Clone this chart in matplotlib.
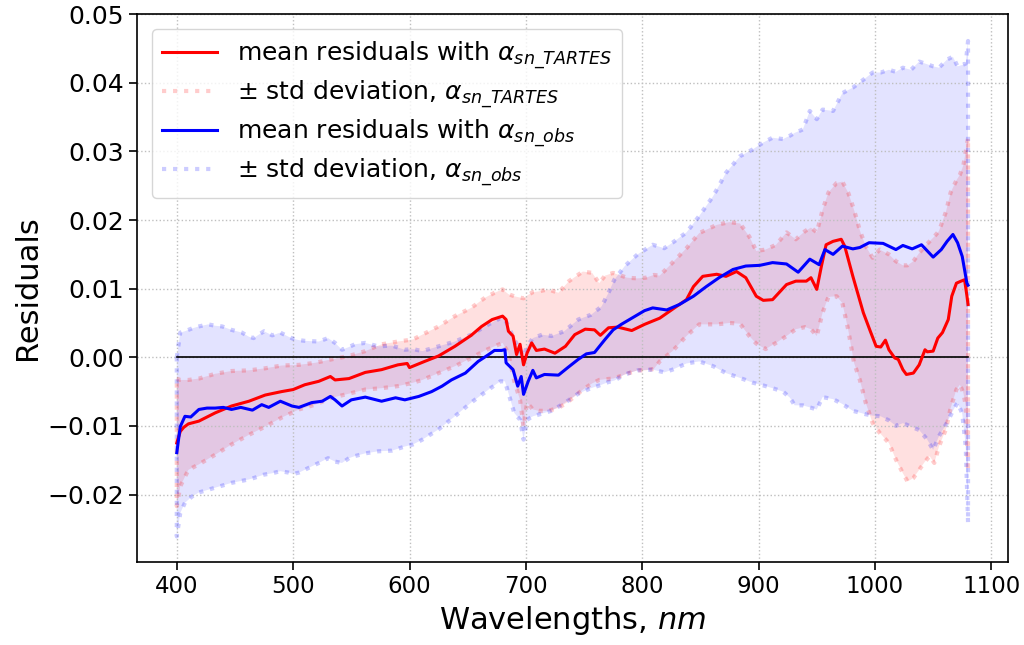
import matplotlib
matplotlib.use("Agg")
import matplotlib.pyplot as plt
import numpy as np

# mean residuals, alpha_sn_TARTES
wl_red = [400, 403, 406, 410, 419, 433, 447, 462, 476, 490, 500, 510, 522, 532, 536, 548, 562, 576,
          590, 598, 600, 613, 625, 639, 653, 662, 671, 680, 683, 685, 689, 692, 695, 698, 701, 705,
          709, 716, 725, 734, 742, 751, 759, 764, 771, 779, 791, 802, 815, 826, 838, 844, 852, 864,
          872, 881, 889, 898, 904, 912, 924, 932, 941, 945, 950, 954, 958, 964, 971, 974, 981, 990,
          996, 1001, 1005, 1009, 1012, 1017, 1020, 1024, 1027, 1033, 1038, 1043, 1045, 1050, 1054,
          1058, 1063, 1066, 1070, 1074, 1077, 1079, 1080]
red_mean = [-0.0125, -0.0108, -0.0102, -0.0097, -0.0093, -0.0081, -0.0071, -0.0064, -0.0055, -0.0050,
            -0.0047, -0.0040, -0.0035, -0.0028, -0.0033, -0.0031, -0.0022, -0.0018, -0.0011, -0.0009,
            -0.0015, -0.0006, 0.0002, 0.0016, 0.0032, 0.0045, 0.0055, 0.0060, 0.0055, 0.0038, 0.0031,
            0.0004, 0.0019, -0.0011, 0.0006, 0.0021, 0.0010, 0.0012, 0.0006, 0.0016, 0.0033, 0.0041,
            0.0040, 0.0032, 0.0043, 0.0044, 0.0039, 0.0048, 0.0057, 0.0070, 0.0084, 0.0103, 0.0118,
            0.0121, 0.0118, 0.0125, 0.0116, 0.0089, 0.0083, 0.0084, 0.0106, 0.0111, 0.0111, 0.0116,
            0.0099, 0.0133, 0.0164, 0.0169, 0.0172, 0.0162, 0.0118, 0.0065, 0.0038, 0.0016, 0.0015,
            0.0025, 0.0011, -0.0001, -0.0003, -0.0018, -0.0025, -0.0023, -0.0011, 0.0011, 0.0008,
            0.0009, 0.0028, 0.0036, 0.0055, 0.0089, 0.0108, 0.0111, 0.0113, 0.0090, 0.0077]

# mean +/- std, alpha_sn_TARTES
wl_red_band = [400, 403, 410, 419, 433, 447, 462, 476, 490, 505, 519, 533, 548, 562, 576, 590, 603,
               611, 625, 639, 653, 665, 673, 680, 685, 690, 695, 698, 701, 706, 711, 719, 728, 737,
               749, 757, 763, 768, 775, 787, 796, 803, 810, 815, 826, 838, 849, 864, 875, 884, 892,
               898, 906, 915, 924, 932, 940, 945, 950, 955, 960, 967, 972, 977, 982, 987, 992, 998,
               1004, 1012, 1018, 1024, 1028, 1033, 1038, 1043, 1047, 1051, 1055, 1061, 1065, 1070,
               1073, 1076, 1078, 1080]
red_upper = [-0.0031, -0.0033, -0.0033, -0.0031, -0.0024, -0.0020, -0.0019, -0.0016, -0.0012, -0.0011,
             -0.0008, -0.0003, 0.0002, 0.0009, 0.0019, 0.0023, 0.0026, 0.0033, 0.0045, 0.0060, 0.0072,
             0.0087, 0.0094, 0.0099, 0.0092, 0.0089, 0.0087, 0.0086, 0.0090, 0.0095, 0.0096, 0.0099,
             0.0094, 0.0111, 0.0125, 0.0123, 0.0108, 0.0119, 0.0123, 0.0116, 0.0115, 0.0116, 0.0120,
             0.0119, 0.0138, 0.0159, 0.0181, 0.0193, 0.0197, 0.0195, 0.0176, 0.0155, 0.0157, 0.0164,
             0.0182, 0.0172, 0.0184, 0.0189, 0.0182, 0.0215, 0.0240, 0.0254, 0.0256, 0.0240, 0.0215,
             0.0185, 0.0162, 0.0145, 0.0157, 0.0150, 0.0140, 0.0134, 0.0134, 0.0140, 0.0152, 0.0162,
             0.0169, 0.0176, 0.0184, 0.0212, 0.0240, 0.0258, 0.0266, 0.0280, 0.0300, 0.0320]
red_lower = [-0.0217, -0.0188, -0.0164, -0.0156, -0.0142, -0.0127, -0.0113, -0.0101, -0.0088, -0.0076,
             -0.0069, -0.0059, -0.0053, -0.0047, -0.0045, -0.0042, -0.0037, -0.0033, -0.0023, -0.0013,
             -0.0001, 0.0010, 0.0016, 0.0021, 0.0006, -0.0035, -0.0062, -0.0101, -0.0066, -0.0076,
             -0.0078, -0.0078, -0.0074, -0.0064, -0.0047, -0.0038, -0.0033, -0.0032, -0.0031, -0.0024,
             -0.0019, -0.0019, -0.0017, -0.0006, 0.0009, 0.0031, 0.0048, 0.0048, 0.0050, 0.0049, 0.0031,
             0.0020, 0.0012, 0.0021, 0.0031, 0.0041, 0.0044, 0.0041, 0.0031, 0.0065, 0.0088, 0.0089,
             0.0079, 0.0040, -0.0008, -0.0033, -0.0066, -0.0096, -0.0110, -0.0125, -0.0149, -0.0169,
             -0.0181, -0.0176, -0.0164, -0.0152, -0.0144, -0.0154, -0.0130, -0.0105, -0.0074, -0.0047,
             -0.0040, -0.0052, -0.0071, -0.0166]

# mean residuals, alpha_sn_obs
wl_blue = [400, 403, 407, 412, 419, 426, 433, 440, 447, 455, 465, 473, 479, 489, 499, 505, 516, 525,
           532, 536, 542, 550, 562, 576, 588, 596, 608, 619, 628, 636, 648, 659, 668, 673, 679, 682,
           683, 689, 693, 696, 698, 702, 706, 709, 716, 728, 736, 745, 752, 759, 768, 775, 782, 794,
           802, 809, 821, 832, 844, 855, 866, 878, 889, 901, 912, 924, 934, 944, 952, 957, 964, 972,
           981, 987, 995, 1007, 1018, 1024, 1032, 1040, 1050, 1057, 1062, 1067, 1071, 1075, 1079, 1080]
blue_mean = [-0.0139, -0.0101, -0.0086, -0.0087, -0.0076, -0.0074, -0.0074, -0.0073, -0.0076, -0.0073,
             -0.0077, -0.0069, -0.0073, -0.0064, -0.0071, -0.0073, -0.0066, -0.0064, -0.0057, -0.0062,
             -0.0071, -0.0062, -0.0058, -0.0064, -0.0059, -0.0062, -0.0057, -0.0050, -0.0042, -0.0033,
             -0.0023, -0.0006, 0.0004, 0.0010, 0.0010, 0.0011, -0.0008, -0.0018, -0.0042, -0.0028,
             -0.0054, -0.0035, -0.0019, -0.0030, -0.0025, -0.0026, -0.0015, -0.0003, 0.0005, 0.0007,
             0.0026, 0.0040, 0.0048, 0.0060, 0.0068, 0.0072, 0.0069, 0.0077, 0.0089, 0.0103, 0.0116,
             0.0128, 0.0133, 0.0134, 0.0138, 0.0136, 0.0124, 0.0143, 0.0135, 0.0157, 0.0150, 0.0162,
             0.0158, 0.0160, 0.0167, 0.0166, 0.0157, 0.0163, 0.0158, 0.0164, 0.0146, 0.0157, 0.0169,
             0.0179, 0.0167, 0.0147, 0.0108, 0.0105]

# mean +/- std, alpha_sn_obs
wl_blue_band = [400, 403, 407, 413, 419, 427, 433, 439, 447, 456, 462, 466, 475, 482, 489, 496, 500,
                505, 510, 522, 530, 536, 542, 548, 553, 562, 573, 585, 596, 603, 611, 625, 639, 653,
                668, 678, 682, 685, 690, 695, 698, 701, 706, 714, 722, 733, 745, 756, 765, 771, 776,
                785, 796, 809, 819, 826, 838, 849, 861, 872, 884, 895, 904, 912, 921, 927, 931, 938,
                944, 950, 955, 964, 972, 981, 992, 998, 1005, 1012, 1018, 1024, 1031, 1038, 1045, 1050,
                1055, 1062, 1067, 1071, 1075, 1078, 1080]
blue_upper = [0.0000, 0.0036, 0.0038, 0.0042, 0.0045, 0.0048, 0.0046, 0.0045, 0.0040, 0.0036, 0.0030,
              0.0028, 0.0038, 0.0032, 0.0036, 0.0030, 0.0027, 0.0025, 0.0024, 0.0023, 0.0028, 0.0021,
              0.0011, 0.0015, 0.0019, 0.0021, 0.0016, 0.0017, 0.0011, 0.0012, 0.0009, 0.0016, 0.0023,
              0.0033, 0.0048, 0.0057, 0.0056, 0.0045, 0.0026, 0.0011, 0.0001, 0.0016, 0.0028, 0.0033,
              0.0031, 0.0038, 0.0055, 0.0062, 0.0074, 0.0094, 0.0113, 0.0133, 0.0150, 0.0164, 0.0159,
              0.0167, 0.0182, 0.0206, 0.0235, 0.0269, 0.0293, 0.0303, 0.0313, 0.0320, 0.0318, 0.0323,
              0.0327, 0.0332, 0.0359, 0.0347, 0.0361, 0.0359, 0.0385, 0.0393, 0.0407, 0.0415, 0.0415,
              0.0419, 0.0416, 0.0422, 0.0419, 0.0431, 0.0427, 0.0424, 0.0422, 0.0434, 0.0438, 0.0424,
              0.0426, 0.0428, 0.0461]
blue_lower = [-0.0261, -0.0227, -0.0212, -0.0203, -0.0197, -0.0193, -0.0190, -0.0187, -0.0183, -0.0180,
              -0.0178, -0.0176, -0.0171, -0.0169, -0.0166, -0.0168, -0.0170, -0.0168, -0.0164, -0.0154,
              -0.0147, -0.0152, -0.0154, -0.0147, -0.0144, -0.0140, -0.0137, -0.0136, -0.0130, -0.0127,
              -0.0120, -0.0105, -0.0086, -0.0066, -0.0047, -0.0035, -0.0035, -0.0052, -0.0081, -0.0091,
              -0.0120, -0.0091, -0.0086, -0.0082, -0.0078, -0.0067, -0.0053, -0.0045, -0.0040, -0.0036,
              -0.0034, -0.0025, -0.0019, -0.0018, -0.0022, -0.0018, -0.0009, -0.0006, -0.0013, -0.0023,
              -0.0030, -0.0037, -0.0041, -0.0045, -0.0050, -0.0059, -0.0070, -0.0070, -0.0073, -0.0076,
              -0.0058, -0.0061, -0.0068, -0.0078, -0.0083, -0.0085, -0.0086, -0.0092, -0.0100, -0.0096,
              -0.0101, -0.0106, -0.0120, -0.0135, -0.0115, -0.0095, -0.0078, -0.0066, -0.0082, -0.0130,
              -0.0241]


def outline(wl, up, lo):
    # closed contour of the band, so the dotted edge also runs down both ends
    x = np.concatenate([wl, wl[::-1], wl[:1]])
    y = np.concatenate([up, lo[::-1], up[:1]])
    return x, y


fig = plt.figure(figsize=(10.24, 6.45), dpi=100)
ax = fig.add_axes([0.134, 0.129, 0.850, 0.849])

ax.plot(wl_red, red_mean, color='red', lw=2.2, label=r'mean residuals with $\alpha_{sn\_TARTES}$', zorder=4)
x, y = outline(np.array(wl_red_band), np.array(red_upper), np.array(red_lower))
ax.plot(x, y, ':', color='red', alpha=0.2, lw=3, label=r'$\pm$ std deviation, $\alpha_{sn\_TARTES}$')
ax.fill_between(wl_red_band, red_lower, red_upper, facecolor='red', alpha=0.12, lw=0)

ax.plot(wl_blue, blue_mean, color='blue', lw=2.2, label=r'mean residuals with $\alpha_{sn\_obs}$', zorder=4)
x, y = outline(np.array(wl_blue_band), np.array(blue_upper), np.array(blue_lower))
ax.plot(x, y, ':', color='blue', alpha=0.2, lw=3, label=r'$\pm$ std deviation, $\alpha_{sn\_obs}$')
ax.fill_between(wl_blue_band, blue_lower, blue_upper, facecolor='blue', alpha=0.11, lw=0)

ax.plot([400, 1080], [0, 0], color='black', lw=1.2, zorder=3)

ax.set_xlim(366, 1114)
ax.set_ylim(-0.0298, 0.05)
ax.set_yticks(np.arange(-0.02, 0.051, 0.01))
ax.grid(True, linestyle=':', color='0.75', lw=1.0)
ax.tick_params(axis='y', labelsize=18, length=6, width=1.2)
ax.tick_params(axis='x', labelsize=16.5, length=6, width=1.2)
for s in ax.spines.values():
    s.set_linewidth(1.2)

ax.set_xlabel(r'Wavelengths, $nm$', fontsize=22)
ax.set_ylabel('Residuals', fontsize=22)
ax.legend(loc='upper left', fontsize=18, handlelength=2.2, labelspacing=0.3,
          borderaxespad=0.6)

fig.savefig('out.png', dpi=100)
